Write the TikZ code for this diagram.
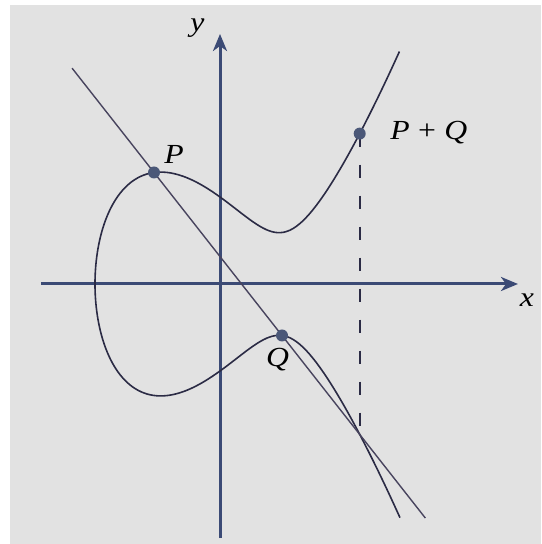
\documentclass[tikz,border=0pt]{standalone}
\usepackage{fontspec}
\setmainfont{Liberation Serif}[FakeStretch=1.15]
\usetikzlibrary{calc,arrows.meta}
\definecolor{paper}{HTML}{E2E2E2}
\definecolor{ink}{HTML}{2B2B45}
\definecolor{axisblue}{HTML}{3B4A75}
\definecolor{dotblue}{HTML}{4B5878}
\definecolor{secantink}{HTML}{48445E}
% y^2 = (x+125)*cubicq(x/100), the cubic of the picture
\tikzset{declare function={cubicq(\u)=119.22*\u*\u-148.73*\u+60.55;}}

\begin{document}
\begin{tikzpicture}[x=0.5pt,y=0.5pt,font=\fontsize{13.8}{16}\selectfont\itshape,
  axisline/.style={draw=axisblue,line width=1.5pt,-{Stealth[length=8.5pt,width=7pt,inset=2.5pt]}},
  curveline/.style={draw=ink,line width=0.8pt},
  secant/.style={draw=secantink,line width=0.7pt},
  dashline/.style={draw=ink,line width=1pt,dash pattern=on 6.5pt off 9pt},
  dot/.style={circle,fill=dotblue,inner sep=0pt,minimum size=6pt}]
\useasboundingbox (-220,284) rectangle (321,-260);
\fill[paper] (-210,279) rectangle (321,-260);
% axes
\draw[axisline] (-179,0) -- (298,0);
\draw[axisline] (0,-254) -- (0,250);
\node (labx) at (307,-16) {x};
\node (laby) at (-22.5,256) {y};
% the curve, run through its root x=-125 with x+125=100*s^2
\draw[curveline] plot[domain=-1.7464:1.7464,samples=161,smooth,variable=\s]
  ({100*(\s*\s-1.25)},{10*\s*sqrt(cubicq(\s*\s-1.25))});
\coordinate (P) at (-66,111.5);
\coordinate (Q) at (62,-51.5);
\coordinate (R) at (139.7,-150.4);
\coordinate (PQ) at (139.7,150.4);
% line through P and Q, and the mirror step to P+Q
\draw[secant] ($(P)!-0.64!(Q)$) -- ($(P)!2.12!(Q)$);
\draw[dashline] (PQ) -- (R);
\foreach \pt in {P,Q,PQ}{\node[dot] (dot\pt) at (\pt) {};}
\node (labP) at (-46,130) {P};
\node (labQ) at (57.7,-75.5) {Q};
\node[anchor=base west,inner sep=0pt] (labPQ) at (170,144) {P\hspace{.3em}{\upshape+}\hspace{.3em}Q};
\end{tikzpicture}
\end{document}
